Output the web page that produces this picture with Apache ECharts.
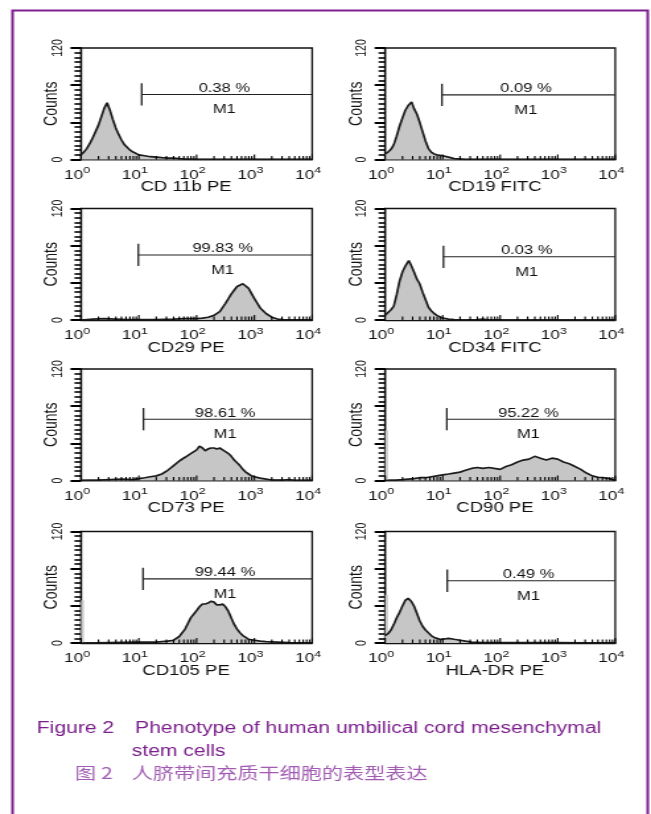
<!DOCTYPE html>
<html><head><meta charset="utf-8">
<script src="https://cdn.jsdelivr.net/npm/echarts@6/dist/echarts.min.js"></script>
<style>
html,body{margin:0;padding:0;background:#fff;overflow:hidden;}
#c{width:493px;height:814px;transform:scaleX(1.3205);transform-origin:0 0;}
</style></head><body><div id="c"></div>
<script>
// ---------- data ----------
const markerNames = ['CD 11b PE', 'CD19 FITC', 'CD29 PE', 'CD34 FITC', 'CD73 PE', 'CD90 PE', 'CD105 PE', 'HLA-DR PE'];
const percents = ['0.38 %', '0.09 %', '99.83 %', '0.03 %', '98.61 %', '95.22 %', '99.44 %', '0.49 %'];
const gateName = 'M1';
const gateStarts = [11.2, 9.7, 9.8, 10.3, 12, 11.8, 11.8, 12];
const gateLevels = [70, 69.5, 70, 68, 66, 66, 69, 67];
const firstBins = [0, 0, 0, 0, 0, 54, 46, 52];
const firstBinEnd = 1.12;
const yLabelValues = [0, 120];
const yMajorTicks = [0, 40, 80, 120];
const yMinorTicks = [5,10,15,20,25,30,35, 45,50,55,60,65,70,75, 85,90,95,100,105,110,115];
const xMajorTicks = [1, 10, 100, 1000, 10000];
const xMinorTicks = [2,3,4,5,6,7,8,9, 20,30,40,50,60,70,80,90, 200,300,400,500,600,700,800,900, 2000,3000,4000,5000,6000,7000,8000,9000];

const cd11b = [[1,5],[1.12,8],[1.26,12],[1.41,17],[1.58,23],[1.78,30],[2.0,37],[2.24,46],[2.51,55],[2.82,61],[3.16,53],[3.55,43],[3.98,34],[4.47,27],[5.01,21],[5.62,16],[6.31,13],[7.08,10],[7.94,8],[10,5],[12.6,4],[15.8,3],[20,2.5],[25,2],[31.6,1.5],[40,1.5],[50,1],[63,0.5],[100,0],[10000,0]];
const cd19 = [[1,6],[1.12,8],[1.26,11],[1.41,16],[1.58,25],[1.78,36],[2.0,45],[2.24,53],[2.51,58],[2.88,62],[3.16,55],[3.55,49],[3.98,40],[4.47,30],[5.01,20],[5.62,12],[6.31,8],[7.08,6],[7.94,5],[10,4],[12.6,2.5],[15.8,1],[20,0.5],[25,0],[10000,0]];
const cd29 = [[1,0],[1.6,1],[2.5,1.5],[4,1],[6.3,0.5],[10,0.5],[20,0.5],[40,1],[63,1.5],[100,1.5],[126,2],[158,3],[200,5],[251,9],[316,18],[398,28],[501,36],[631,39],[794,34],[1000,23],[1259,13],[1585,7],[1995,3],[2512,1],[3162,0.5],[10000,0]];
const cd34 = [[1,5],[1.12,8],[1.26,11],[1.41,15],[1.58,27],[1.78,42],[2.0,52],[2.24,58],[2.57,64],[2.82,59],[3.16,52],[3.55,44],[3.98,39],[4.47,30],[5.01,22],[5.62,14],[6.31,10],[7.08,7],[7.94,5],[10,2],[12.6,1],[15.8,0.5],[20,0],[40,0.5],[50,1],[63,0],[10000,0]];
const cd73 = [[1,0],[2,0.5],[3.16,1],[5,1.5],[7.94,1],[10,2],[12.6,3],[15.8,4],[20,5],[25,7],[31.6,11],[40,16],[50,21],[63,25],[79,29],[100,33],[112,37],[126,35],[141,32],[158,34],[178,35],[200,35],[224,34],[251,35],[282,33],[316,31],[355,29],[398,26],[447,22],[501,19],[562,16],[631,12],[708,9],[794,7],[891,5],[1000,4],[1259,2.5],[1585,1.5],[1995,0.5],[3162,0.5],[3981,1],[5012,0],[10000,0]];
const cd90 = [[1,0],[1.58,0.5],[2,1],[2.51,1.5],[3.16,2],[3.98,3],[5.01,3],[6.31,4],[7.94,5],[10,6],[12.6,7],[15.8,8],[20,9],[25,11],[31.6,13],[40,14],[50,13],[63,14],[79,13],[100,12],[126,15],[158,17],[200,20],[251,22],[316,23],[398,26],[501,24],[631,22],[794,24],[1000,23],[1259,20],[1585,18],[1995,15],[2512,12],[3162,8],[3981,5],[5012,3.5],[6310,3],[7943,2],[10000,0]];
const cd105 = [[1,0],[3.16,0.5],[10,1],[15.8,1],[20,1],[25,1.5],[31.6,2],[40,3],[50,7],[63,15],[79,27],[100,35],[112,39],[126,42],[141,42],[158,43],[178,45],[200,44],[224,41],[251,41],[282,42],[316,39],[355,34],[398,27],[447,20],[501,15],[562,11],[631,8],[708,6],[794,4],[1000,3],[1259,2],[1585,1.5],[2512,1],[3981,0.5],[10000,0]];
const hladr = [[1,8],[1.12,10],[1.26,14],[1.41,20],[1.58,27],[1.78,33],[2.0,40],[2.24,46],[2.51,48],[2.82,45],[3.16,40],[3.55,32],[3.98,24],[4.47,18],[5.01,14],[5.62,11],[6.31,8],[7.08,6],[7.94,5],[8.9,4],[10,4],[12.6,5],[15.8,4],[20,3],[25,2],[31.6,1],[50,0.5],[100,0.5],[1000,0.5],[10000,0]];
const histograms = [cd11b, cd19, cd29, cd34, cd73, cd90, cd105, hladr];

// ---------- layout / style ----------
const F = '"Liberation Sans", Arial, sans-serif';
const CJK = '"Noto Sans CJK SC", sans-serif';
const INK = '#111';
const colLeft = [61.4, 291.7];
const colWidth = [175, 174.2];
const rowTop = [48, 208.5, 369, 531.5];
const H = 111.5;

const grids = [], xAxes = [], yAxes = [], series = [];
histograms.forEach((hist, i) => {
  const r = Math.floor(i / 2), c = i % 2;
  grids.push({left: colLeft[c], top: rowTop[r], width: colWidth[c], height: H,
    show: true, borderColor: INK, borderWidth: 1.3, backgroundColor: 'transparent'});
  xAxes.push({
    gridIndex: i, type: 'log', logBase: 10, min: 1, max: 10000, splitNumber: 4,
    axisLine: {show: true, lineStyle: {color: INK, width: 1.3}},
    axisTick: {show: false},
    splitLine: {show: false},
    axisLabel: {
      margin: 6, padding: [0, 6, 0, 0],
      formatter: v => '{b|10}{s|' + Math.round(Math.log10(v)) + '}',
      rich: {
        b: {fontSize: 13, fontFamily: F, color: INK},
        s: {fontSize: 9.5, fontFamily: F, color: INK, padding: [0, 0, 9, 0]}
      }
    },
    name: markerNames[i], nameLocation: 'middle', nameGap: 21, nameMoveOverlap: false,
    nameTextStyle: {fontSize: 14, fontFamily: F, color: INK, padding: [0, c === 0 ? 16 : 8, 0, 0]}
  });
  yAxes.push({
    gridIndex: i, type: 'value', min: 0, max: 120, interval: 40,
    axisLine: {show: true, lineStyle: {color: INK, width: 1.3}},
    axisTick: {show: true, inside: false, length: 8, lineStyle: {color: '#000', width: 2}},
    minorTick: {show: true, splitNumber: 8, length: 5, lineStyle: {color: '#000', width: 1.6}},
    splitLine: {show: false}, minorSplitLine: {show: false},
    axisLabel: {rotate: 90, fontSize: 10.5, fontFamily: F, color: INK, margin: 12,
      formatter: v => (yLabelValues.indexOf(v) >= 0 ? String(v) : '')},
    name: 'Counts', nameLocation: 'middle', nameRotate: 90, nameGap: 15, nameMoveOverlap: false,
    nameTextStyle: {fontSize: 14, fontFamily: F, color: INK}
  });
  series.push({
    type: 'line', xAxisIndex: i, yAxisIndex: i, data: hist, symbol: 'none',
    lineStyle: {color: '#1c1c1c', width: 1.7}, areaStyle: {color: '#c6c6c6', opacity: 1}, z: 3
  });
  if (firstBins[i] > 0) {
    series.push({
      type: 'line', xAxisIndex: i, yAxisIndex: i, symbol: 'none',
      data: [[1, firstBins[i]], [firstBinEnd, firstBins[i]]],
      lineStyle: {width: 0, opacity: 0}, areaStyle: {color: '#cbcbcb', opacity: 1}, z: 2
    });
  }
  // x-axis ticks (inside, pointing up)
  series.push({
    type: 'custom', xAxisIndex: i, yAxisIndex: i, silent: true, z: 8, clip: false,
    data: [0],
    renderItem: (params, api) => {
      const children = [];
      xMajorTicks.concat(xMinorTicks).forEach(v => {
        const p = api.coord([v, 0]);
        const len = xMajorTicks.indexOf(v) >= 0 ? 5 : 3.5;
        children.push({type: 'line', shape: {x1: p[0], y1: p[1], x2: p[0], y2: p[1] - len},
          style: {stroke: '#000', lineWidth: 1.1}});
      });
      return {type: 'group', children: children};
    }
  });
  series.push({
    type: 'custom', xAxisIndex: i, yAxisIndex: i, silent: true, z: 6, clip: false,
    data: [[gateStarts[i], gateLevels[i]]],
    renderItem: (params, api) => {
      const s = api.value(0), lv = api.value(1);
      const a = api.coord([s, lv]), b = api.coord([10000, lv]);
      const t = api.coord([s, lv + 12]), u = api.coord([s, lv - 12]);
      const mid = (a[0] + b[0]) / 2 - 2;
      return {type: 'group', children: [
        {type: 'line', shape: {x1: a[0], y1: a[1], x2: b[0], y2: b[1]}, style: {stroke: '#222', lineWidth: 1.1}},
        {type: 'line', shape: {x1: t[0], y1: t[1], x2: u[0], y2: u[1]}, style: {stroke: '#222', lineWidth: 1.3}},
        {type: 'text', x: mid, y: a[1] - 6, style: {text: percents[i], fontSize: 12.5, fontFamily: F, fill: INK, align: 'center', verticalAlign: 'middle'}},
        {type: 'text', x: mid, y: a[1] + 15.5, style: {text: gateName, fontSize: 12.5, fontFamily: F, fill: INK, align: 'center', verticalAlign: 'middle'}}
      ]};
    }
  });
});

const chart = echarts.init(document.getElementById('c'), null, {renderer: 'canvas'});
chart.setOption({
  animation: false,
  backgroundColor: '#fff',
  grid: grids, xAxis: xAxes, yAxis: yAxes, series: series,
  graphic: [
    {type: 'rect', silent: true, shape: {x: 9.5, y: 10.5, width: 481, height: 900},
      style: {fill: 'none', stroke: '#7e1f8f', lineWidth: 2}},
    {type: 'text', x: 27.8, y: 728.5, style: {text: 'Figure 2', fontSize: 16, fontFamily: F, fill: '#7b1f8c', verticalAlign: 'middle'}},
    {type: 'text', x: 102.3, y: 728.5, style: {text: 'Phenotype of human umbilical cord mesenchymal', fontSize: 16, fontFamily: F, fill: '#7b1f8c', verticalAlign: 'middle'}},
    {type: 'text', x: 99.7, y: 751.5, style: {text: 'stem cells', fontSize: 16, fontFamily: F, fill: '#7b1f8c', verticalAlign: 'middle'}},
    {type: 'text', x: 56.8, y: 772.5, style: {text: '图 2', fontSize: 16, fontFamily: CJK, fill: '#a25cb3', verticalAlign: 'middle'}},
    {type: 'text', x: 99.7, y: 772.5, style: {text: '人脐带间充质干细胞的表型表达', fontSize: 16, fontFamily: CJK, fill: '#a25cb3', verticalAlign: 'middle'}}
  ]
});
</script></body></html>
